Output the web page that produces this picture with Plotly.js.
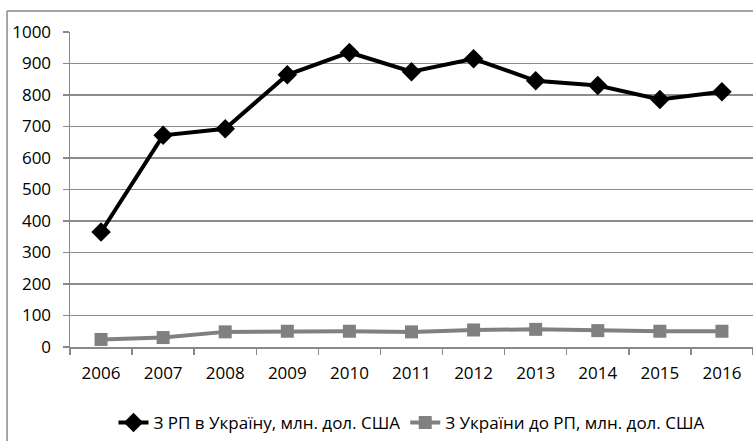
<!DOCTYPE html>
<html>
<head>
<meta charset="utf-8">
<script src="https://cdn.plot.ly/plotly-3.0.1.min.js"></script>
<style>html,body{margin:0;padding:0;background:#fff;}#chart{width:753px;height:441px;}</style>
</head>
<body>
<div id="chart"></div>
<script>
const years = ["2006","2007","2008","2009","2010","2011","2012","2013","2014","2015","2016"];
const fromPoland = [365, 672, 693, 864, 935, 874, 915, 845, 830, 786, 810];
const toPoland = [24, 30, 48, 50, 50, 48, 54, 56, 52, 50, 50];
const name1 = "З РП в Україну, млн. дол. США";
const name2 = "З України до РП, млн. дол. США";

const traces = [
  {x: years, y: fromPoland, name: name1, type: "scatter", mode: "lines+markers",
   line: {color: "#000000", width: 4}, marker: {symbol: "diamond", size: 15, color: "#000000"}},
  {x: years, y: toPoland, name: name2, type: "scatter", mode: "lines+markers",
   line: {color: "#808080", width: 4}, marker: {symbol: "square", size: 13, color: "#808080"}}
];

const layout = {
  width: 753, height: 441,
  margin: {l: 70, r: 0, t: 32, b: 93},
  paper_bgcolor: "#ffffff", plot_bgcolor: "#ffffff",
  font: {family: "Open Sans, Liberation Sans, sans-serif", size: 17, color: "#000000"},
  showlegend: true,
  legend: {orientation: "h", x: 0.5, xanchor: "center", y: -0.24, yanchor: "middle",
           font: {size: 17, color: "#000000"}, itemwidth: 30, tracegroupgap: 0},
  xaxis: {type: "category", range: [-0.5, 10.5], tickson: "boundaries",
          showgrid: false, showline: true, linecolor: "#898989", linewidth: 1.5,
          ticks: "outside", ticklen: 6, tickcolor: "#898989", tickwidth: 1.5,
          ticklabelstandoff: 10,
          tickfont: {size: 17}, zeroline: false, fixedrange: true},
  yaxis: {range: [0, 1000], dtick: 100, tick0: 0, showgrid: true, gridcolor: "#8c8c8c", gridwidth: 1.5,
          showline: true, linecolor: "#898989", linewidth: 1.5,
          ticks: "outside", ticklen: 6, tickcolor: "#898989", tickwidth: 1.5,
          ticklabelstandoff: 8,
          tickfont: {size: 17}, zeroline: false, fixedrange: true},
  shapes: [
    {type: "line", xref: "paper", yref: "paper", x0: -0.0922, x1: -0.0922, y0: 1.0665, y1: -0.4,
     line: {color: "#898989", width: 1.5}},
    {type: "line", xref: "paper", yref: "paper", x0: -0.0922, x1: 1.1, y0: 1.0665, y1: 1.0665,
     line: {color: "#898989", width: 1.5}}
  ]
};

Plotly.newPlot("chart", traces, layout, {displayModeBar: false, staticPlot: true});
</script>
</body>
</html>
